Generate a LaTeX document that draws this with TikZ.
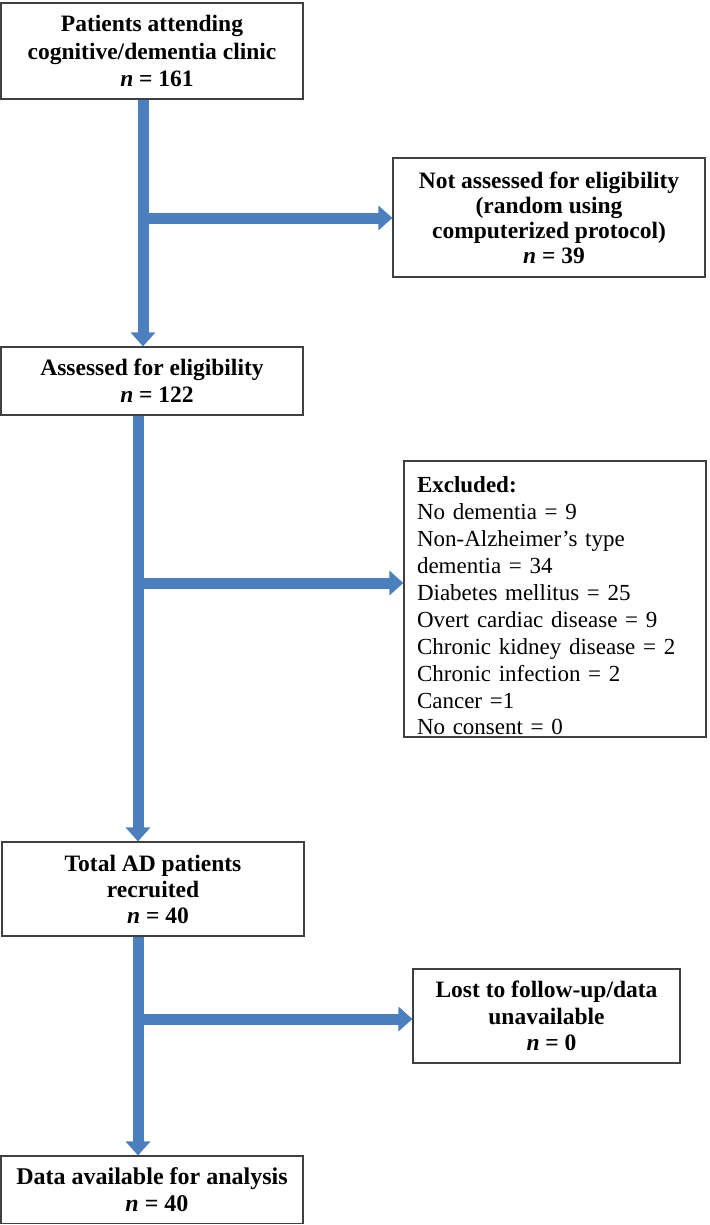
\documentclass[tikz,border=0pt]{standalone}
\usepackage{fontspec}
\setmainfont{Liberation Serif}
\usetikzlibrary{arrows.meta}
\definecolor{arrowblue}{RGB}{76,127,190}
\definecolor{boxline}{RGB}{64,64,64}
\newcommand{\nline}[1]{\hspace*{10pt}\textit{n} = #1}
\begin{document}
\begin{tikzpicture}[x=1pt,y=-1pt,
  box/.style={draw=boxline,line width=1.2pt,rectangle,inner sep=0pt,align=center,
    font=\fontsize{23.5}{27}\selectfont\bfseries},
  listbox/.style={draw=boxline,line width=1.2pt,rectangle,inner xsep=13pt,inner ysep=0pt,align=left,
    font=\fontsize{23}{26.9}\selectfont},
  flow/.style={draw=arrowblue,line width=11pt,-{Triangle[width=24pt,length=14pt]}}
]
\useasboundingbox (0,0) rectangle (709,1225);

\node[box,minimum width=302pt,minimum height=96pt,font=\fontsize{23.5}{27.5}\selectfont\bfseries] (p) at (152,51)
  {Patients attending\\cognitive/dementia clinic\\\nline{161}};
\node[box,minimum width=312pt,minimum height=119pt,font=\fontsize{23.5}{25}\selectfont\bfseries] (na) at (549,217.5)
  {Not assessed for eligibility\\(random using\\computerized protocol)\\\nline{39}};
\node[box,minimum width=302pt,minimum height=68pt] (a) at (152,381)
  {Assessed for eligibility\\\nline{122}};
\node[listbox,minimum width=302pt,minimum height=276pt,text width=276pt] (ex) at (555,599)
  {\rule{0pt}{30pt}\textbf{Excluded:}\\No dementia = 9\\Non-Alzheimer’s type\\dementia = 34\\Diabetes mellitus = 25\\Overt cardiac disease = 9\\Chronic kidney disease = 2\\Chronic infection = 2\\Cancer =1\\No consent = 0};
\node[box,minimum width=302pt,minimum height=94pt,font=\fontsize{23.5}{26}\selectfont\bfseries] (t) at (153,889)
  {Total AD patients\\recruited\\\nline{40}};
\node[box,minimum width=267pt,minimum height=94pt,font=\fontsize{23.5}{26.5}\selectfont\bfseries] (l) at (546.5,1016)
  {Lost to follow-up/data\\unavailable\\\nline{0}};
\node[box,minimum width=302pt,minimum height=67.5pt,font=\fontsize{24}{27}\selectfont\bfseries] (d) at (152,1189.8)
  {Data available for analysis\\\nline{40}};

\coordinate (x1) at (143,0);
\coordinate (x2) at (138,0);
\coordinate (b1) at (143,218);
\coordinate (b2) at (138,583);
\coordinate (b3) at (138,1019);

\draw[flow] (p.south -| x1) -- (a.north -| x1);
\draw[flow] (a.south -| x2) -- (t.north -| x2);
\draw[flow] (t.south -| x2) -- (d.north -| x2);
\draw[flow] (b1) -- (na.west |- b1);
\draw[flow] (b2) -- (ex.west |- b2);
\draw[flow] (b3) -- (l.west |- b3);
\end{tikzpicture}
\end{document}
